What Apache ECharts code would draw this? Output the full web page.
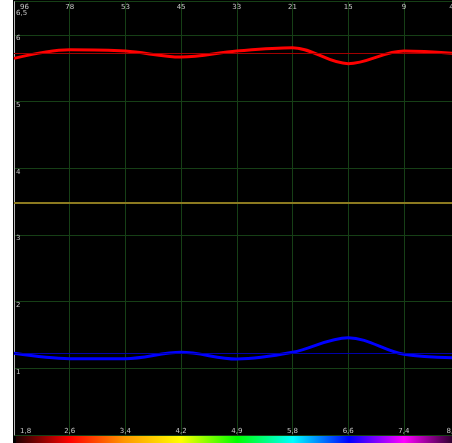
<!DOCTYPE html>
<html><head><meta charset="utf-8">
<script src="https://cdn.jsdelivr.net/npm/echarts@6/dist/echarts.min.js"></script>
<style>html,body{margin:0;padding:0;background:#fff}#c{width:452px;height:443px}</style>
</head><body><div id="c"></div>
<script>
const topLabels = ['96','78','53','45','33','21','15','9','4'];
const bottomLabels = ['1,8','2,6','3,4','4,2','4,9','5,8','6,6','7,4','8,2'];
const redValues = [5.65,5.78,5.76,5.67,5.76,5.81,5.57,5.76,5.72];
const blueValues = [1.225,1.145,1.145,1.24,1.14,1.24,1.46,1.21,1.16];
const referenceLevel = 3.48;

const chart = echarts.init(document.getElementById('c'), null, {renderer:'canvas'});
const fmt = v => String(v).replace('.', ',');
const labelFont = {fontFamily:'DejaVu Sans', fontSize:7, color:'#c8c8c8'};
const makeFmt = n => (v, i) => i === 0 ? '{f|' + v + '}' : (i === n - 1 ? '{l|' + v + '}' : v);
const richFor = lastPad => ({
  f:{fontFamily:'DejaVu Sans', fontSize:7, color:'#c8c8c8', padding:[0,0,0,6]},
  l:{fontFamily:'DejaVu Sans', fontSize:7, color:'#c8c8c8', padding:[0,lastPad,0,0]}
});
chart.setOption({
  backgroundColor:'#000',
  animation:false,
  grid:{left:14, top:1.7, width:445.6, bottom:8, containLabel:false, outerBoundsMode:'none'},
  graphic:[
    {type:'rect', shape:{x:0,y:0,width:13,height:443}, style:{fill:'#fff'}, z:0},
    {type:'rect', shape:{x:16,y:435,width:436,height:8}, z:0, style:{fill:{
      type:'linear', x:0,y:0,x2:1,y2:0, colorStops:[
        {offset:0,color:'#200000'},{offset:0.124,color:'#ff0000'},{offset:0.25,color:'#ff9900'},
        {offset:0.378,color:'#ffff00'},{offset:0.507,color:'#00ff00'},{offset:0.635,color:'#00ffff'},
        {offset:0.764,color:'#0000ff'},{offset:0.89,color:'#ff00ff'},{offset:1,color:'#300030'}]}}}
  ],
  xAxis:[
    {type:'category', position:'top', data:topLabels, boundaryGap:false,
     axisLine:{show:false}, axisTick:{show:false},
     axisLabel:Object.assign({inside:true, margin:2, verticalAlign:'top', alignMinLabel:'left', alignMaxLabel:'right', interval:0,
       formatter:makeFmt(topLabels.length), rich:richFor(6)}, labelFont),
     splitLine:{show:true, lineStyle:{color:'#163f16', width:1}}},
    {type:'category', position:'bottom', data:bottomLabels, boundaryGap:false,
     axisLine:{show:false}, axisTick:{show:false},
     axisLabel:Object.assign({inside:true, margin:0, verticalAlign:'bottom', alignMinLabel:'left', alignMaxLabel:'right', interval:0,
       formatter:makeFmt(bottomLabels.length), rich:richFor(2)}, labelFont),
     splitLine:{show:false}}
  ],
  yAxis:{type:'value', min:0, max:6.5, interval:1,
    axisLine:{show:true, lineStyle:{color:'#bbbbbb', width:1}}, axisTick:{show:false},
    axisLabel:Object.assign({inside:true, margin:2, verticalAlign:'top', showMinLabel:false,
      formatter:v => v===6.5 ? '{a|'+fmt(v)+'}' : fmt(v),
      rich:{a:{fontFamily:'DejaVu Sans', fontSize:7, color:'#c8c8c8', padding:[8,0,0,0]}}}, labelFont),
    splitLine:{show:true, lineStyle:{color:'#163f16', width:1}}},
  series:[
    {type:'line', name:'red', data:redValues, smooth:0.35, showSymbol:false, z:3,
     lineStyle:{color:'#ff0000', width:3},
     markLine:{silent:true, symbol:'none', label:{show:false}, lineStyle:{color:'#a00000', width:1, type:'solid'},
       data:[{type:'average'}]}},
    {type:'line', name:'blue', data:blueValues, smooth:0.35, showSymbol:false, z:3,
     lineStyle:{color:'#0000ff', width:3},
     markLine:{silent:true, symbol:'none', label:{show:false}, lineStyle:{color:'#0000a8', width:1, type:'solid'},
       data:[{type:'average'}, {yAxis:referenceLevel, lineStyle:{color:'#8c7a20', width:2}}]}}
  ]
});
</script></body></html>
